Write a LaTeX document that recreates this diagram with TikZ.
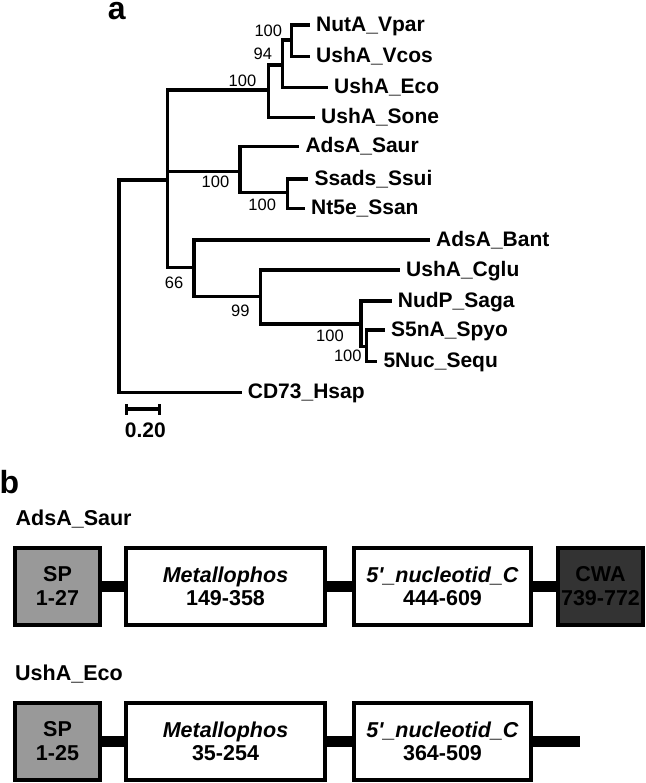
\documentclass[tikz,border=0pt]{standalone}
\usepackage{fontspec}
\setmainfont{Liberation Sans}
\definecolor{spgray}{HTML}{999999}
\definecolor{cwagray}{HTML}{333333}
\tikzset{
  branch/.style={line width=3.2pt},
  leaf/.style={anchor=west, inner xsep=6pt, inner ysep=0pt, text height=15pt, text depth=2.6pt,
    font=\fontsize{21}{24}\selectfont\bfseries},
  boot/.style={inner sep=0pt, font=\fontsize{16.5}{18}\selectfont},
  panel/.style={inner sep=0pt, font=\fontsize{32}{36}\selectfont\bfseries},
  protname/.style={anchor=base west, inner sep=0pt, font=\fontsize{21.5}{24}\selectfont\bfseries},
  dombox/.style={draw, line width=4pt, minimum height=77pt, inner sep=0pt, align=center,
    font=\fontsize{21.5}{23.5}\selectfont\bfseries},
  linker/.style={line width=11pt}
}
\begin{document}
\begin{tikzpicture}[x=1pt,y=-1pt]
                \useasboundingbox (0,0) rectangle (645,783);
                
                % Marking panel letters
                \node [panel] (pa) at (116.7,11) {a};%
                \node [panel] (pb) at (9.5,481.7) {b};%
                
                % Marking internal nodes of the tree
                \coordinate (root) at (119,286);%
                \coordinate (nA) at (167.3,180);%
                \coordinate (nTop) at (268.3,90);%
                \coordinate (n94) at (282.7,65);%
                \coordinate (nV) at (291.7,40);%
                \coordinate (nSaur) at (240,171.7);%
                \coordinate (nSs) at (287.3,192.7);%
                \coordinate (n66) at (194,267.7);%
                \coordinate (n99) at (260.7,296.7);%
                \coordinate (nStr) at (361,324);%
                \coordinate (nSS) at (366.7,346.7);%
                
                % Marking leaves
                \node [leaf] (nutA) at (310,25) {NutA\_Vpar};%
                \node [leaf] (vcos) at (310,56.7) {UshA\_Vcos};%
                \node [leaf] (ushEco) at (328,87.3) {UshA\_Eco};%
                \node [leaf] (sone) at (315,117.3) {UshA\_Sone};%
                \node [leaf] (saur) at (299.3,146.7) {AdsA\_Saur};%
                \node [leaf] (ssui) at (308.3,179) {Ssads\_Ssui};%
                \node [leaf] (ssan) at (305,208.3) {Nt5e\_Ssan};%
                \node [leaf] (bant) at (430,240) {AdsA\_Bant};%
                \node [leaf] (cglu) at (400,270) {UshA\_Cglu};%
                \node [leaf] (saga) at (391.7,301) {NudP\_Saga};%
                \node [leaf] (spyo) at (385,330) {S5nA\_Spyo};%
                \node [leaf] (sequ) at (377.3,361.7) {5Nuc\_Sequ};%
                \node [leaf] (hsap) at (241.7,392.7) {CD73\_Hsap};%
                
                % Drawing branches
                \draw [branch] (root) |- (nA);%
                \draw [branch] (root) |- (hsap.west);%
                \draw [branch] (nA) |- (nTop);%
                \draw [branch] (nA) |- (nSaur);%
                \draw [branch] (nA) |- (n66);%
                \draw [branch] (nTop) |- (n94);%
                \draw [branch] (nTop) |- (sone.west);%
                \draw [branch] (n94) |- (nV);%
                \draw [branch] (n94) |- (ushEco.west);%
                \draw [branch] (nV) |- (nutA.west);%
                \draw [branch] (nV) |- (vcos.west);%
                \draw [branch] (nSaur) |- (saur.west);%
                \draw [branch] (nSaur) |- (nSs);%
                \draw [branch] (nSs) |- (ssui.west);%
                \draw [branch] (nSs) |- (ssan.west);%
                \draw [branch] (n66) |- (bant.west);%
                \draw [branch] (n66) |- (n99);%
                \draw [branch] (n99) |- (cglu.west);%
                \draw [branch] (n99) |- (nStr);%
                \draw [branch] (nStr) |- (saga.west);%
                \draw [branch] (nStr) |- (nSS);%
                \draw [branch] (nSS) |- (spyo.west);%
                \draw [branch] (nSS) |- (sequ.west);%
                
                % Marking bootstrap values
                \node [boot] (bV) at (268.3,31.2) {100};%
                \node [boot] (b94) at (262.8,54.2) {94};%
                \node [boot] (bTop) at (242.5,81.2) {100};%
                \node [boot] (bSaur) at (215.5,182.2) {100};%
                \node [boot] (bSs) at (262.2,204.5) {100};%
                \node [boot] (b66) at (174,282.5) {66};%
                \node [boot] (b99) at (240.3,311) {99};%
                \node [boot] (bStr) at (330,336.3) {100};%
                \node [boot] (bSS) at (347.8,356) {100};%
                
                % Drawing scale bar
                \coordinate (sb0) at (126.5,409);%
                \coordinate (sb1) at (159.5,409);%
                \draw [branch] (sb0) -- (sb1);%
                \draw [branch] ([yshift=-5.5pt]sb0) -- ([yshift=5.5pt]sb0);%
                \draw [branch] ([yshift=-5.5pt]sb1) -- ([yshift=5.5pt]sb1);%
                \node [inner sep=0pt, font=\fontsize{21}{24}\selectfont\bfseries] (sblabel) at (145.3,430.7) {0.20};%
                
                % Marking protein AdsA_Saur
                \node [protname] (protA) at (15.5,525) {AdsA\_Saur};%
                \node [dombox, fill=spgray, minimum width=84.4pt] (spA) at (57.5,586.2) {SP\\1-27};%
                \node [dombox, fill=white, minimum width=199pt] (metA) at (225.5,586.2) {\textit{Metallophos}\\149-358};%
                \node [dombox, fill=white, minimum width=177.6pt] (nucA) at (442.5,586.2) {\textit{5\textquotesingle\_nucleotid\_C}\\444-609};%
                \node [dombox, fill=cwagray, minimum width=85pt] (cwaA) at (600.5,586.2) {CWA\\739-772};%
                \draw [linker] (spA) -- (metA);%
                \draw [linker] (metA) -- (nucA);%
                \draw [linker] (nucA) -- (cwaA);%
                
                % Marking protein UshA_Eco
                \node [protname] (protB) at (15,680.2) {UshA\_Eco};%
                \node [dombox, fill=spgray, minimum width=84.4pt] (spB) at (57.5,741.2) {SP\\1-25};%
                \node [dombox, fill=white, minimum width=199pt] (metB) at (225.5,741.2) {\textit{Metallophos}\\35-254};%
                \node [dombox, fill=white, minimum width=177.6pt] (nucB) at (442.5,741.2) {\textit{5\textquotesingle\_nucleotid\_C}\\364-509};%
                \coordinate (tailB) at (580,741.2);%
                \draw [linker] (spB) -- (metB);%
                \draw [linker] (metB) -- (nucB);%
                \draw [linker] (nucB) -- (tailB);%
\end{tikzpicture}
\end{document}
